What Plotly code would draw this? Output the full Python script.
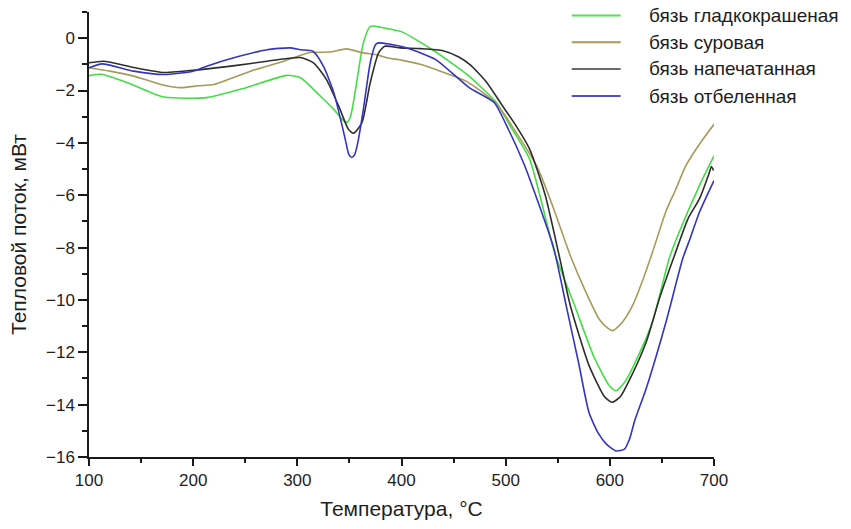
import plotly.graph_objects as go

# DSC curves of calico fabric samples: temperature (°C) vs heat flow (mW)
names = ["бязь гладкокрашеная", "бязь суровая", "бязь напечатанная", "бязь отбеленная"]
colors = ["#44dd44", "#a89a58", "#2e2e2e", "#3434c0"]
legend_colors = ["#55e055", "#a89a58", "#6a6a6a", "#5050cc"]

t_dyed = [100, 112, 140, 172, 213, 250, 290, 303, 322, 335, 343, 347.5, 351, 355.4, 363.4,
          370, 380, 392, 400, 430, 464, 491, 505, 523, 547, 567, 585, 600, 606, 615, 630,
          641, 657, 664, 686, 700]
q_dyed = [-1.43, -1.38, -1.75, -2.25, -2.27, -1.9, -1.42, -1.51, -2.21, -2.72, -3.1, -3.22,
          -3.0, -2.08, -0.18, 0.45, 0.42, 0.32, 0.25, -0.45, -1.42, -2.46, -3.4, -4.62,
          -8.2, -10.3, -12.2, -13.3, -13.47, -13.1, -11.9, -10.83, -8.42, -7.66, -5.63, -4.5]

t_raw = [100, 120, 143, 172, 188, 205, 220, 255, 287, 312, 331, 347.5, 363, 376, 386, 400,
         418, 433, 462, 491, 510, 530, 545, 562, 577, 590, 598, 603, 612, 622, 632, 641,
         654, 663, 673, 686, 700]
q_raw = [-1.13, -1.26, -1.45, -1.8, -1.89, -1.82, -1.77, -1.26, -0.88, -0.55, -0.53, -0.41,
         -0.56, -0.63, -0.75, -0.84, -1.0, -1.2, -1.64, -2.5, -3.6, -4.9, -6.4, -8.3, -9.7,
         -10.75, -11.08, -11.17, -10.85, -10.2, -9.2, -8.17, -6.6, -5.8, -4.87, -4.05, -3.29]

t_print = [100, 114, 143, 172, 207, 240, 271, 303, 315.5, 328, 341, 349, 354, 362, 370, 378,
           384, 399, 418, 440, 455, 466, 482, 497, 510, 523, 538, 552, 562, 580, 595, 602,
           610, 622, 635, 648, 661, 675, 686, 695, 697.5, 699.5]
q_print = [-0.94, -0.88, -1.12, -1.31, -1.2, -1.05, -0.88, -0.74, -0.94, -1.58, -2.72, -3.48,
           -3.63, -3.23, -1.7, -0.56, -0.31, -0.37, -0.4, -0.48, -0.72, -1.02, -1.7, -2.59,
           -3.35, -4.24, -6.0, -8.42, -10.2, -12.5, -13.7, -13.91, -13.7, -12.8, -11.6, -9.9,
           -8.42, -6.9, -6.14, -5.2, -4.9, -5.05]

t_bleach = [100, 112.6, 143, 172, 200, 213, 239, 271, 293, 303, 315, 325, 335, 343, 346.5,
            349.5, 352.3, 355, 358, 363.4, 370, 375, 378, 399, 418, 433, 465, 489, 501, 517,
            530, 546, 558, 570, 580, 589, 597, 606, 614, 619, 624, 635, 654, 670, 677, 686, 700]
q_bleach = [-1.13, -0.98, -1.26, -1.39, -1.26, -1.07, -0.75, -0.44, -0.37, -0.44, -0.5, -1.07,
            -2.08, -3.35, -3.95, -4.45, -4.56, -4.45, -4.0, -2.72, -0.94, -0.25, -0.18, -0.31,
            -0.56, -0.82, -1.89, -2.46, -3.35, -4.75, -6.14, -8.0, -10.2, -12.4, -14.3,
            -15.1, -15.52, -15.77, -15.7, -15.3, -14.6, -13.37, -10.83, -8.42, -7.66, -6.65,
            -5.44]

series_t = [t_dyed, t_raw, t_print, t_bleach]
series_q = [q_dyed, q_raw, q_print, q_bleach]

x_ticks = [100, 200, 300, 400, 500, 600, 700]
y_ticks = [0, -2, -4, -6, -8, -10, -12, -14, -16]

FONT = "Liberation Sans, Arial, sans-serif"
TEXT = "#1e1e1e"

fig = go.Figure()
for name, color, t, q in zip(names, colors, series_t, series_q):
    fig.add_trace(go.Scatter(
        x=t, y=q, mode="lines", name=name, showlegend=False,
        line=dict(color=color, width=1.6, shape="spline", smoothing=0.6),
    ))

# Hand-drawn legend with long line samples
row_y = [0.992, 0.932, 0.872, 0.811]
for name, color, ry in zip(names, legend_colors, row_y):
    fig.add_shape(type="line", xref="paper", yref="paper",
                  x0=0.7724, x1=0.8506, y0=ry, y1=ry,
                  line=dict(color=color, width=2))
    fig.add_annotation(xref="paper", yref="paper", x=0.8922, y=ry,
                       text=name, showarrow=False, xanchor="left", yanchor="middle",
                       font=dict(family=FONT, size=19, color=TEXT))

axis_common = dict(
    showgrid=False, zeroline=False, showline=True, linecolor="#1a1a1a", linewidth=1.5,
    ticks="outside", tickcolor="#1a1a1a", tickwidth=1.5, mirror=False,
    tickfont=dict(family=FONT, size=17, color=TEXT),
)

fig.update_xaxes(
    range=[100, 700], tickvals=x_ticks, ticklen=7,
    minor=dict(ticks="outside", ticklen=4, dtick=50, tick0=100, tickcolor="#1a1a1a", tickwidth=1.5),
    title=dict(text="Температура, °C", font=dict(family=FONT, size=21, color=TEXT), standoff=12),
    **axis_common,
)
fig.update_yaxes(
    range=[-16, 1], tickvals=y_ticks, ticklen=9,
    minor=dict(ticks="outside", ticklen=5, dtick=1, tick0=0, tickcolor="#1a1a1a", tickwidth=1.5),
    title=dict(text="Тепловой поток, мВт", font=dict(family=FONT, size=21, color=TEXT), standoff=14),
    **axis_common,
)

fig.update_layout(
    width=851, height=529,
    margin=dict(l=88.5, r=136.5, t=12, b=70),
    paper_bgcolor="white", plot_bgcolor="white",
)

fig.write_html("out.html")
